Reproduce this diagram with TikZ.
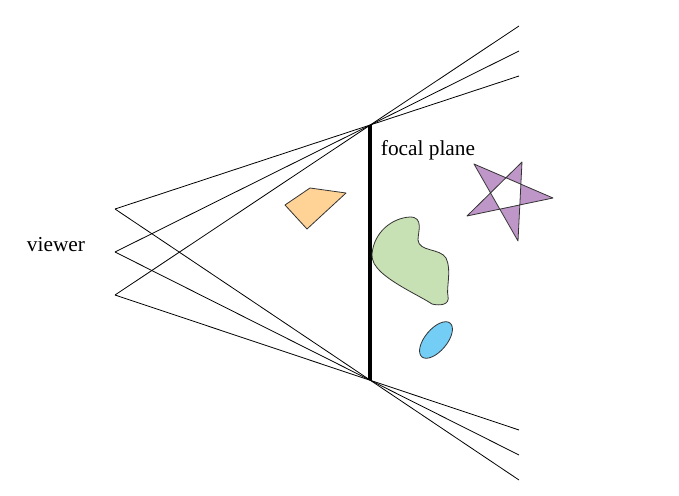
\documentclass[tikz,border=0pt]{standalone}
\usepackage{fontspec}
\setmainfont{Liberation Serif}
\begin{document}
\begin{tikzpicture}[x=0.75pt,y=-0.75pt,
  ray/.style={draw=black,line width=0.6pt},
  plane/.style={draw=black,line width=2.4pt},
  blob/.style={draw=black!80,line width=0.6pt,line join=round},
  lbl/.style={font=\fontsize{16}{19}\selectfont,inner sep=0pt}]
\useasboundingbox (0,0) rectangle (679,496);
% viewer points
\coordinate (v1) at (115,209);
\coordinate (v2) at (115,252);
\coordinate (v3) at (115,295);
% focal plane ends
\coordinate (ft) at (370,125);
\coordinate (fb) at (370,380);
% far ends
\coordinate (t1) at (519,76);
\coordinate (t2) at (519,51);
\coordinate (t3) at (519,26);
\coordinate (b1) at (519,480);
\coordinate (b2) at (519,455);
\coordinate (b3) at (519,430);
\draw[ray] (v1) -- (t1);
\draw[ray] (v2) -- (t2);
\draw[ray] (v3) -- (t3);
\draw[ray] (v1) -- (b1);
\draw[ray] (v2) -- (b2);
\draw[ray] (v3) -- (b3);
\draw[plane] (ft) -- (fb);
\node[lbl] (viewer) at (56,245) {viewer};
\node[lbl] (focal) at (428,150) {focal plane};
% orange quad
\filldraw[blob,fill={rgb,255:red,255;green,210;blue,150}] (285,205) -- (310,188) -- (346,193) -- (307,229) -- cycle;
% green blob
\filldraw[blob,fill={rgb,255:red,200;green,225;blue,180}]
  (372,254) .. controls (374,232) and (392,218) .. (410,217)
  .. controls (424,217) and (418,232) .. (418,240)
  .. controls (419,252) and (440,248) .. (446,258)
  .. controls (452,270) and (446,288) .. (448,296)
  .. controls (450,305) and (440,306) .. (432,304)
  .. controls (420,296) and (395,285) .. (381,272)
  .. controls (375,266) and (372,262) .. (372,254) -- cycle;
% blue ellipse
\filldraw[blob,fill={rgb,255:red,115;green,205;blue,245}] (436,340) ellipse[x radius=22, y radius=11, rotate=50];
% star
\filldraw[blob,fill={rgb,255:red,190;green,150;blue,200},even odd rule]
  (474,164) -- (553,198) -- (467,216) -- (522,162) -- (518,241) -- cycle;
\end{tikzpicture}
\end{document}
